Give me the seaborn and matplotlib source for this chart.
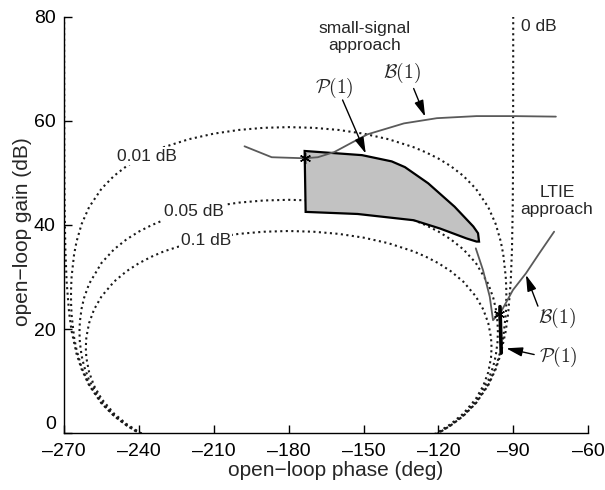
import matplotlib
matplotlib.use("Agg")
import matplotlib.pyplot as plt
import seaborn as sns

# --- Data ---
# closed-loop magnitude contours (dotted), phase in deg, gain in dB
m001_phase = [-235, -240, -245, -250, -255, -260, -263, -265, -266, -267, -267.2,
              -267.25,
              -267.2, -267, -266, -265, -263, -260, -255, -250, -245, -240, -235,
              -230, -220, -210, -200, -190, -180, -170, -160, -150, -140, -130,
              -125, -120, -115, -110, -105, -100, -97, -95, -94, -93, -92.8,
              -92.75,
              -92.8, -93, -94, -95, -97, -100, -105, -110, -115, -120, -125]
m001_gain = [-1.17, 0.02, 1.49, 3.35, 5.80, 9.36, 12.62, 15.93, 18.39, 22.70, 24.71,
             26.38,
             28.06, 30.07, 34.38, 36.84, 40.15, 43.41, 46.97, 49.42, 51.28, 52.75,
             53.94, 54.94, 56.46, 57.53, 58.24, 58.65, 58.78, 58.65, 58.24, 57.53,
             56.46, 54.94, 53.94, 52.75, 51.28, 49.42, 46.97, 43.41, 40.15, 36.84,
             34.38, 30.07, 28.06,
             26.38,
             24.71, 22.70, 18.39, 15.93, 12.62, 9.36, 5.80, 3.35, 1.49, 0.02, -1.17]

m005_phase = [-235, -240, -245, -250, -255, -260, -262, -263, -263.7,
              -263.86,
              -263.7, -263, -262, -260, -255, -250, -245, -240, -235, -230, -220,
              -210, -200, -190, -180, -170, -160, -150, -140, -130, -125, -120,
              -115, -110, -105, -100, -98, -97, -96.3,
              -96.14,
              -96.3, -97, -98, -100, -105, -110, -115, -120, -125]
m005_gain = [-1.11, 0.10, 1.61, 3.52, 6.12, 10.16, 12.84, 14.89, 17.45,
             19.42,
             21.38, 23.94, 25.99, 28.67, 32.71, 35.31, 37.22, 38.73, 39.94, 40.95,
             42.49, 43.56, 44.28, 44.69, 44.82, 44.69, 44.28, 43.56, 42.49, 40.95,
             39.94, 38.73, 37.22, 35.31, 32.71, 28.67, 25.99, 23.94, 21.38,
             19.42,
             17.45, 14.89, 12.84, 10.16, 6.12, 3.52, 1.61, 0.10, -1.11]

m01_phase = [-235, -240, -245, -250, -255, -258, -260, -261.1,
             -261.32,
             -261.1, -260, -258, -255, -250, -245, -240, -235, -230, -220, -210,
             -200, -190, -180, -170, -160, -150, -140, -130, -125, -120, -115,
             -110, -105, -102, -100, -98.9,
             -98.68,
             -98.9, -100, -102, -105, -110, -115, -120, -125]
m01_gain = [-1.03, 0.21, 1.76, 3.76, 6.58, 9.10, 11.72, 14.47,
            16.43,
            18.39, 21.14, 23.76, 26.28, 29.10, 31.10, 32.65, 33.89, 34.92, 36.48,
            37.56, 38.28, 38.69, 38.83, 38.69, 38.28, 37.56, 36.48, 34.92, 33.89,
            32.65, 31.10, 29.10, 26.28, 23.76, 21.14, 18.39,
            16.43,
            14.47, 11.72, 9.10, 6.58, 3.76, 1.76, 0.21, -1.03]

m0_right_phase = [-90, -90.01, -90.05, -90.1, -90.2, -90.5, -91, -92, -93, -95,
                  -97, -100, -105, -110, -115, -120, -125]
m0_left_phase = [-270, -269.99, -269.95, -269.9, -269.8, -269.5, -269, -268, -267,
                 -265, -263, -260, -255, -250, -245, -240, -235]
m0_gain = [80, 69.2, 55.2, 49.1, 43.1, 35.2, 29.1, 23.1, 19.6, 15.2, 12.3, 9.2,
           5.7, 3.3, 1.5, 0.0, -1.2]

# small-signal approach: P(1) region and B(1) curve
p1_ss_phase = [-173.6, -150.6, -138.7, -133.4, -124.1, -113.5, -106.0, -104.1,
               -103.7, -104.7, -108.7, -119.3, -129.9, -152.4, -173.2]
p1_ss_gain = [54.2, 53.4, 52.2, 51.1, 48.0, 43.5, 39.7, 38.4, 36.8, 36.8, 37.4,
              39.3, 40.9, 42.1, 42.5]
b1_ss_phase = [-197.7, -186.8, -173.6, -168.3, -161.7, -155.1, -148.4, -133.8,
               -120.6, -104.7, -90.1, -72.9]
b1_ss_gain = [55.1, 53.0, 52.8, 53.0, 54.0, 55.7, 57.4, 59.5, 60.5, 60.9, 60.9,
              60.8]
star_ss = (-173.6, 52.8)

# LTIE approach: P(1) segment and B(1) curve
b1_ltie_phase = [-105.0, -102.1, -99.4, -98.1, -95.8, -94.8, -90.1, -84.9, -79.6,
                 -73.6]
b1_ltie_gain = [35.5, 31.3, 26.2, 21.7, 22.9, 23.4, 27.5, 30.7, 34.5, 38.7]
p1_ltie_phase = [-95.3, -94.8]
p1_ltie_gain = [24.3, 15.4]
star_ltie = (-95.8, 22.9)

x_ticks = [-270, -240, -210, -180, -150, -120, -90, -60]
x_ticklabels = ["\u2013270", "\u2013240", "\u2013210", "\u2013180", "\u2013150",
                "\u2013120", "\u201390", "\u201360"]
y_ticks = [0, 20, 40, 60, 80]

# --- Figure ---
sns.set_style("white")
plt.rcParams["font.family"] = ["Liberation Sans", "DejaVu Sans"]
plt.rcParams["mathtext.fontset"] = "cm"

fig = plt.figure(figsize=(6.05, 4.9), dpi=100)
ax = fig.add_axes([0.106, 0.116, 0.866, 0.850])

dotted = dict(color="#1a1a1a", linestyle=":", linewidth=1.5, sort=False,
              estimator=None, ax=ax, zorder=2)
sns.lineplot(x=m001_phase, y=m001_gain, **dotted)
sns.lineplot(x=m005_phase, y=m005_gain, **dotted)
sns.lineplot(x=m01_phase, y=m01_gain, **dotted)
sns.lineplot(x=m0_right_phase, y=m0_gain, **dotted)
sns.lineplot(x=m0_left_phase, y=m0_gain, **dotted)

ax.fill(p1_ss_phase, p1_ss_gain, facecolor="#c2c2c2", edgecolor="black",
        linewidth=1.6, zorder=3)

solid = dict(color="#5a5a5a", linewidth=1.3, sort=False, estimator=None, ax=ax,
             zorder=4)
sns.lineplot(x=b1_ss_phase, y=b1_ss_gain, **solid)
sns.lineplot(x=b1_ltie_phase, y=b1_ltie_gain, **solid)
sns.lineplot(x=p1_ltie_phase, y=p1_ltie_gain, color="black", linewidth=2.6,
             sort=False, estimator=None, ax=ax, zorder=5)

for px, py in [star_ss, star_ltie]:
    ax.plot(px, py, marker=(6, 2, 0), markersize=8, color="black",
            markeredgewidth=1.0, zorder=6)

# --- Labels on the chart ---
white = dict(facecolor="white", edgecolor="none", pad=1.0)
ax.text(-236.8, 53.2, "0.01 dB", fontsize=12.5, ha="center", va="center",
        bbox=white, zorder=7)
ax.text(-218.0, 42.5, "0.05 dB", fontsize=12.5, ha="center", va="center",
        bbox=white, zorder=7)
ax.text(-213.2, 37.1, "0.1 dB", fontsize=12.5, ha="center", va="center",
        bbox=white, zorder=7)
ax.text(-87.0, 78.2, "0 dB", fontsize=12.5, ha="left", va="center", zorder=7)
ax.text(-149.6, 76.1, "small-signal\napproach", fontsize=12.5, ha="center",
        va="center", linespacing=1.15, zorder=7)
ax.text(-72.5, 44.6, "LTIE\napproach", fontsize=12.5, ha="center", va="center",
        linespacing=1.15, zorder=7)

ax.text(-161.9, 66.3, r"$\mathcal{P}(1)$", fontsize=14, ha="center",
        va="center", zorder=7)
ax.text(-134.5, 69.2, r"$\mathcal{B}(1)$", fontsize=14, ha="center",
        va="center", zorder=7)
ax.text(-72.5, 22.1, r"$\mathcal{B}(1)$", fontsize=14, ha="center",
        va="center", zorder=7)
ax.text(-72.1, 14.7, r"$\mathcal{P}(1)$", fontsize=14, ha="center",
        va="center", zorder=7)

arrow = dict(arrowstyle="-|>,head_length=0.7,head_width=0.2", color="black",
             lw=1.0, shrinkA=0, shrinkB=0, mutation_scale=14)
ax.annotate("", xy=(-149.1, 53.7), xytext=(-158.4, 64.0), arrowprops=arrow,
            zorder=7)
ax.annotate("", xy=(-125.3, 60.8), xytext=(-129.9, 66.2), arrowprops=arrow,
            zorder=7)
ax.annotate("", xy=(-84.9, 30.4), xytext=(-80.1, 24.4), arrowprops=arrow,
            zorder=7)
ax.annotate("", xy=(-92.8, 16.3), xytext=(-81.6, 15.1), arrowprops=arrow,
            zorder=7)

# --- Axes ---
ax.set_xlim(-270, -60)
ax.set_ylim(0, 80)
ax.set_xticks(x_ticks)
ax.set_xticklabels(x_ticklabels)
ax.set_yticks(y_ticks)
ax.set_xlabel("open\u2212loop phase (deg)", fontsize=15)
ax.set_ylabel("open\u2212loop gain (dB)", fontsize=15)
ax.xaxis.set_label_coords(0.518, -0.068)
ax.yaxis.set_label_coords(-0.062, 0.484)
ax.tick_params(direction="in", length=6, width=1, labelsize=14, pad=6,
               colors="black", bottom=True, left=True)
ax.tick_params(axis="x", pad=7)
ax.get_yticklabels()[0].set_verticalalignment("bottom")
sns.despine(ax=ax)
for side in ["left", "bottom"]:
    ax.spines[side].set_color("black")
    ax.spines[side].set_linewidth(1.0)

fig.savefig("out.png", dpi=100)
